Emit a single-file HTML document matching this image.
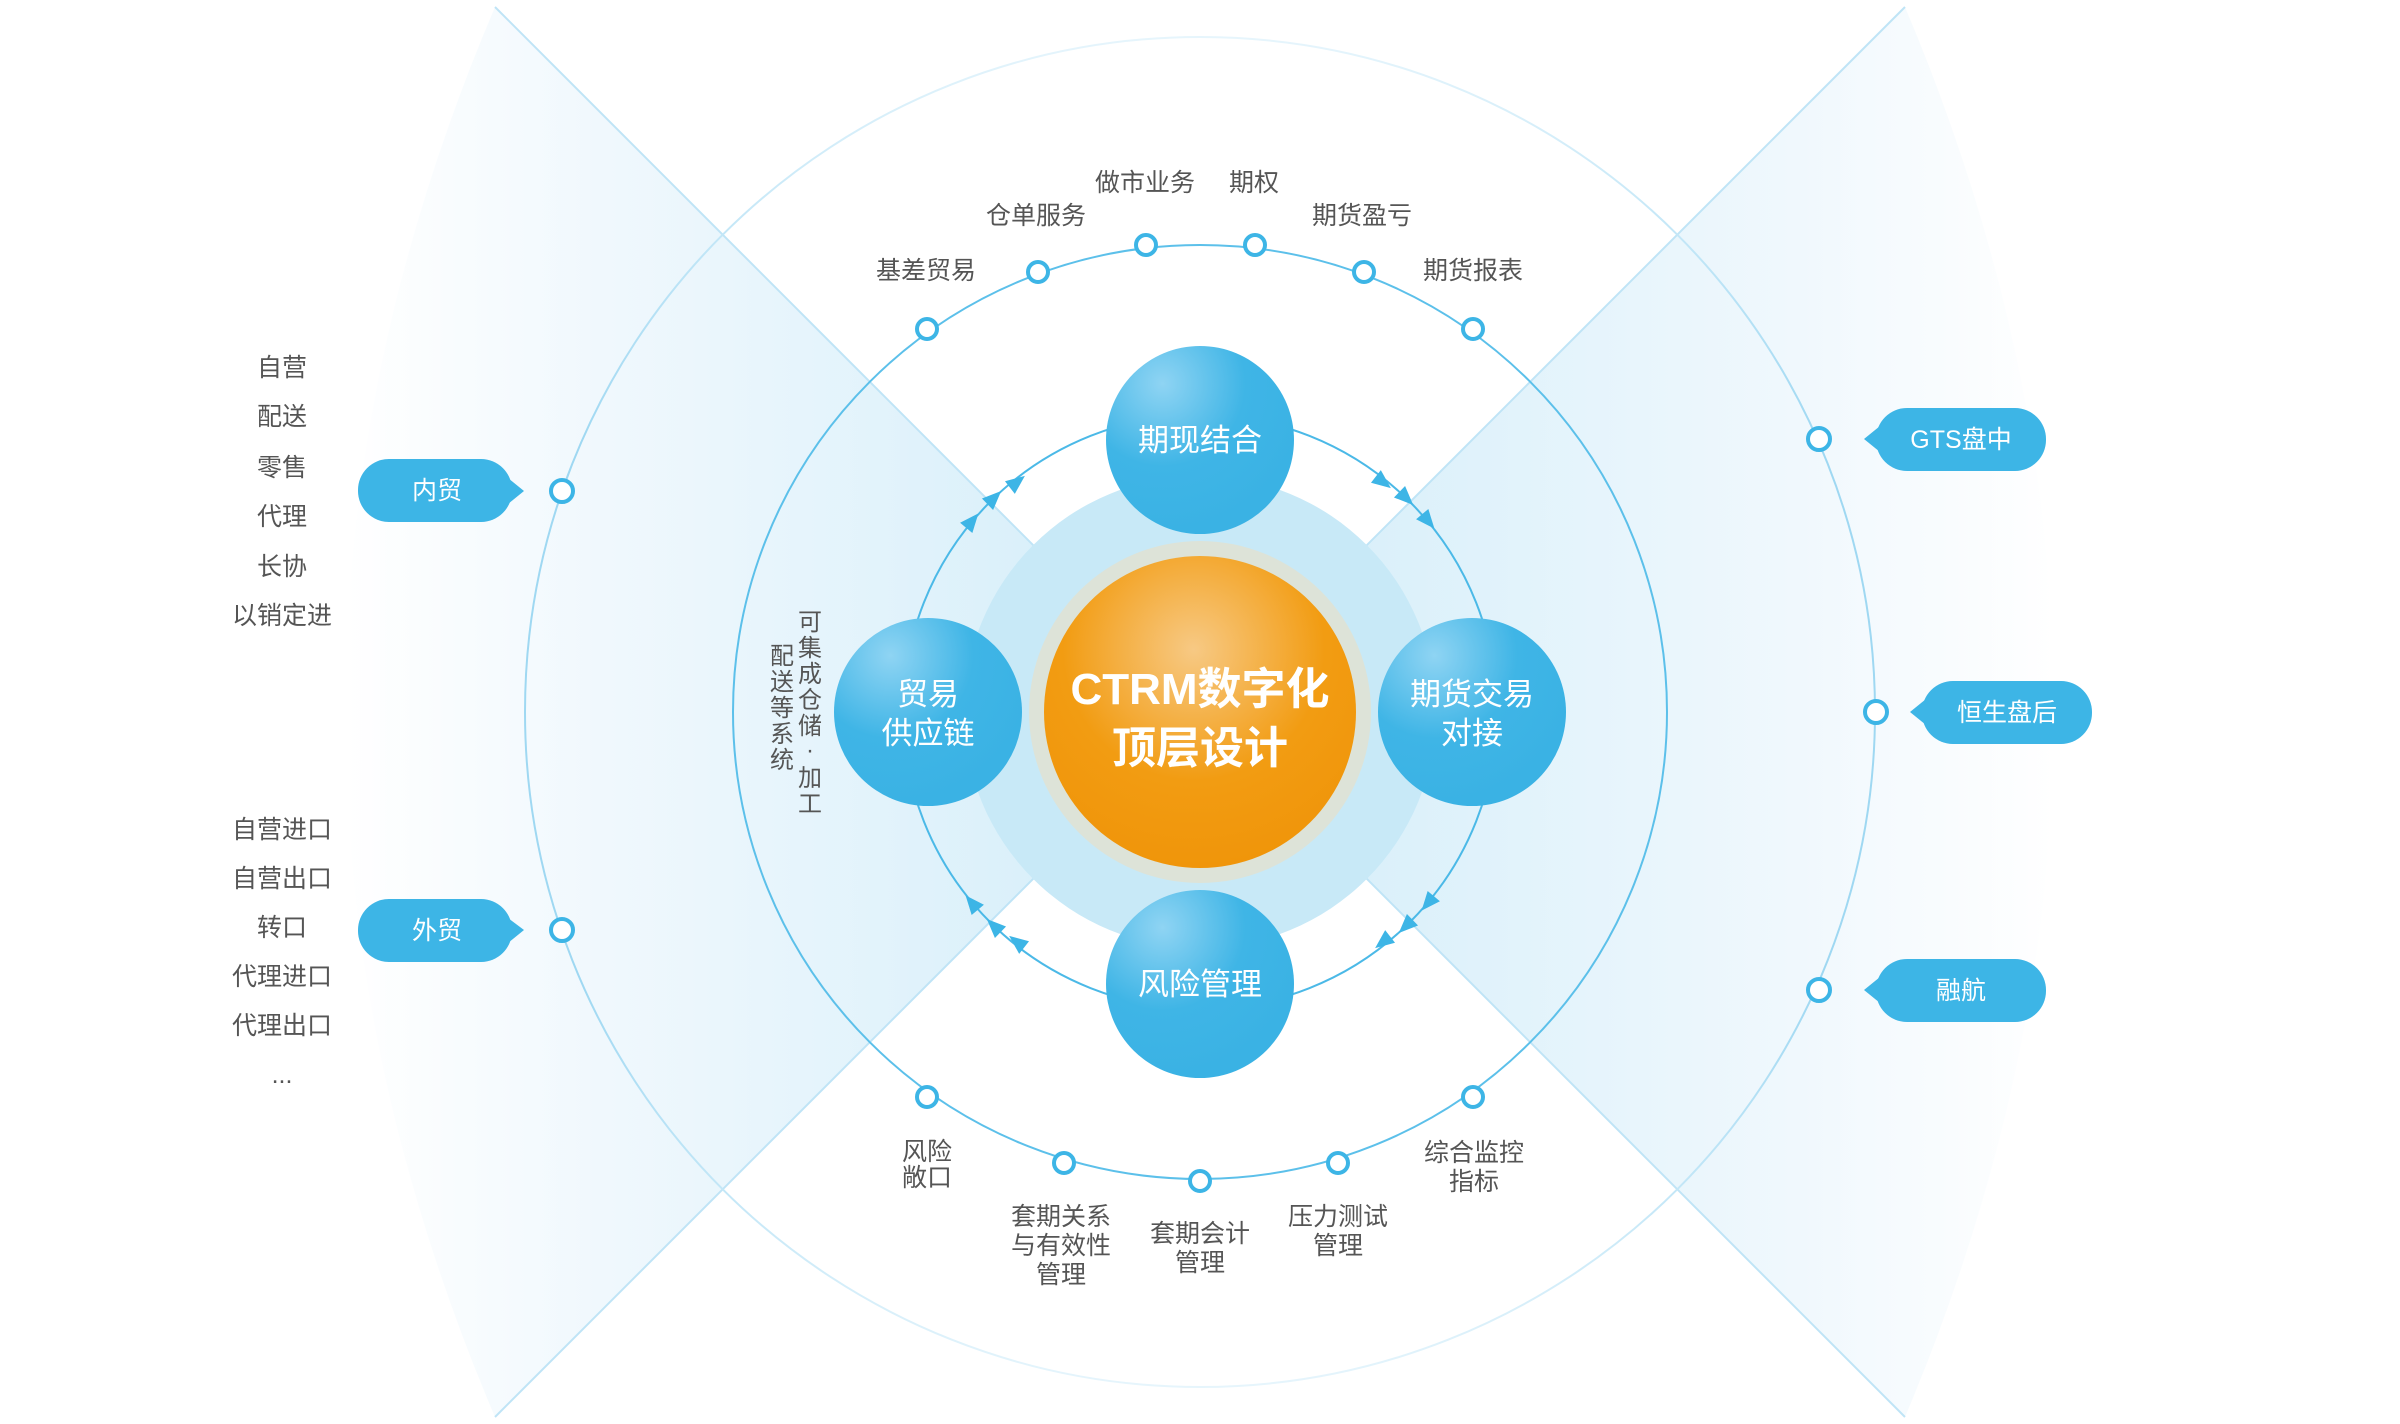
<!DOCTYPE html>
<html><head><meta charset="utf-8"><style>
html,body{margin:0;padding:0;background:#fff;}
svg{display:block;}
text{font-family:"Liberation Sans","Noto Sans CJK SC",sans-serif;}
</style></head><body>
<svg width="2400" height="1424" viewBox="0 0 2400 1424" xmlns="http://www.w3.org/2000/svg">
<defs>
<linearGradient id="wl" x1="345" y1="0" x2="1200" y2="0" gradientUnits="userSpaceOnUse">
<stop offset="0" stop-color="#ffffff"/><stop offset="0.3" stop-color="#f0f8fd"/><stop offset="1" stop-color="#d2edf9"/></linearGradient>
<linearGradient id="wr" x1="2054" y1="0" x2="1200" y2="0" gradientUnits="userSpaceOnUse">
<stop offset="0" stop-color="#ffffff"/><stop offset="0.3" stop-color="#f0f8fd"/><stop offset="1" stop-color="#d2edf9"/></linearGradient>
<radialGradient id="sat" cx="0.3" cy="0.2" r="0.8">
<stop offset="0" stop-color="#8fd4f3"/><stop offset="0.55" stop-color="#3fb5e6"/><stop offset="1" stop-color="#3ab2e4"/></radialGradient>
<radialGradient id="org" cx="0.48" cy="0.3" r="0.7">
<stop offset="0" stop-color="#f7c984"/><stop offset="0.6" stop-color="#f29c12"/><stop offset="1" stop-color="#f0950a"/></radialGradient>
<linearGradient id="outer" x1="0" y1="37" x2="0" y2="1387" gradientUnits="userSpaceOnUse">
<stop offset="0" stop-color="#e6f5fc"/><stop offset="0.3" stop-color="#9fd8f2"/><stop offset="0.7" stop-color="#9fd8f2"/><stop offset="1" stop-color="#e6f5fc"/></linearGradient>
<polygon id="ah" points="10,0 -9,-8 -9,8" fill="#3db5e6"/>
</defs>

<path d="M495,7 L1200,712 L495,1417 Q195,712 495,7 Z" fill="url(#wl)"/>
<path d="M1905,7 L1200,712 L1905,1417 Q2203,712 1905,7 Z" fill="url(#wr)"/>
<g stroke="#bfe4f6" stroke-width="2">
<line x1="495" y1="7" x2="1905" y2="1417"/><line x1="1905" y1="7" x2="495" y2="1417"/>
</g>

<circle cx="1200" cy="712" r="675" fill="none" stroke="url(#outer)" stroke-width="2"/>
<circle cx="1200" cy="712" r="467" fill="none" stroke="#5cc0ea" stroke-width="2"/>

<circle cx="1200" cy="712" r="236" fill="#c8e9f7"/>
<circle cx="1200" cy="712" r="297" fill="none" stroke="#4bb9e7" stroke-width="2"/>
<circle cx="1200" cy="712" r="171" fill="#dde3d8"/>
<circle cx="1200" cy="712" r="156" fill="url(#org)"/>

<g>
<use href="#ah" transform="translate(972,521) rotate(-50)"/>
<use href="#ah" transform="translate(994,498) rotate(-44)"/>
<use href="#ah" transform="translate(1017,482) rotate(-38)"/>
<use href="#ah" transform="translate(1383,482) rotate(38)"/>
<use href="#ah" transform="translate(1406,498) rotate(44)"/>
<use href="#ah" transform="translate(1428,521) rotate(50)"/>
<use href="#ah" transform="translate(1428,903) rotate(130)"/>
<use href="#ah" transform="translate(1406,926) rotate(136)"/>
<use href="#ah" transform="translate(1383,942) rotate(142)"/>
<use href="#ah" transform="translate(1017,942) rotate(-142)"/>
<use href="#ah" transform="translate(994,926) rotate(-136)"/>
<use href="#ah" transform="translate(972,903) rotate(-130)"/>
</g>

<circle cx="1200" cy="440" r="94" fill="url(#sat)"/>
<circle cx="928" cy="712" r="94" fill="url(#sat)"/>
<circle cx="1472" cy="712" r="94" fill="url(#sat)"/>
<circle cx="1200" cy="984" r="94" fill="url(#sat)"/>
<g fill="#fff" font-size="31" text-anchor="middle">
<text x="1200" y="451">期现结合</text>
<text x="928" y="705">贸易</text><text x="928" y="744">供应链</text>
<text x="1472" y="705">期货交易</text><text x="1472" y="744">对接</text>
<text x="1200" y="995">风险管理</text>
</g>
<g fill="#fff" font-size="44" font-weight="bold" text-anchor="middle">
<text x="1200" y="704">CTRM数字化</text>
<text x="1200" y="763">顶层设计</text>
</g>

<g fill="#fff" stroke="#3db5e6" stroke-width="4">
<circle cx="927" cy="329" r="10"/><circle cx="1038" cy="272" r="10"/><circle cx="1146" cy="245" r="10"/>
<circle cx="1255" cy="245" r="10"/><circle cx="1364" cy="272" r="10"/><circle cx="1473" cy="329" r="10"/>
<circle cx="927" cy="1097" r="10"/><circle cx="1064" cy="1163" r="10"/><circle cx="1200" cy="1181" r="10"/>
<circle cx="1338" cy="1163" r="10"/><circle cx="1473" cy="1097" r="10"/>
<circle cx="562" cy="491" r="11"/><circle cx="562" cy="930" r="11"/>
<circle cx="1819" cy="439" r="11"/><circle cx="1876" cy="712" r="11"/><circle cx="1819" cy="990" r="11"/>
</g>

<g fill="#3db5e6">
<rect x="358" y="459" width="154" height="63" rx="31"/><polygon points="508,478 524,491 508,504"/>
<rect x="358" y="899" width="154" height="63" rx="31"/><polygon points="508,918 524,930 508,943"/>
<rect x="1876" y="408" width="170" height="63" rx="31"/><polygon points="1880,426 1864,439 1880,452"/>
<rect x="1922" y="681" width="170" height="63" rx="31"/><polygon points="1926,699 1910,712 1926,725"/>
<rect x="1876" y="959" width="170" height="63" rx="31"/><polygon points="1880,977 1864,990 1880,1003"/>
</g>
<g fill="#fff" font-size="25" text-anchor="middle">
<text x="437" y="499">内贸</text><text x="437" y="939">外贸</text>
<text x="1961" y="448">GTS盘中</text><text x="2007" y="721">恒生盘后</text><text x="1961" y="999">融航</text>
</g>

<g fill="#555" font-size="25" text-anchor="middle">
<text x="282" y="376">自营</text><text x="282" y="425">配送</text><text x="282" y="476">零售</text>
<text x="282" y="525">代理</text><text x="282" y="575">长协</text><text x="282" y="624">以销定进</text>
<text x="282" y="838">自营进口</text><text x="282" y="887">自营出口</text><text x="282" y="936">转口</text>
<text x="282" y="985">代理进口</text><text x="282" y="1034">代理出口</text><text x="282" y="1083">...</text>
<text x="926" y="279">基差贸易</text><text x="1036" y="224">仓单服务</text><text x="1145" y="191">做市业务</text>
<text x="1254" y="191">期权</text><text x="1362" y="224">期货盈亏</text><text x="1473" y="279">期货报表</text>
<text x="927" y="1160">风险</text><text x="927" y="1186">敞口</text>
<text x="1061" y="1225">套期关系</text><text x="1061" y="1254">与有效性</text><text x="1061" y="1283">管理</text>
<text x="1200" y="1242">套期会计</text><text x="1200" y="1271">管理</text>
<text x="1338" y="1225">压力测试</text><text x="1338" y="1254">管理</text>
<text x="1474" y="1161">综合监控</text><text x="1474" y="1190">指标</text>
</g>
<g fill="#555" font-size="24" text-anchor="middle">
<text x="810" y="630">可</text><text x="810" y="656">集</text><text x="810" y="682">成</text><text x="810" y="708">仓</text>
<text x="810" y="734">储</text><text x="810" y="758">·</text><text x="810" y="786">加</text><text x="810" y="812">工</text>
<text x="782" y="664">配</text><text x="782" y="690">送</text><text x="782" y="716">等</text><text x="782" y="742">系</text><text x="782" y="768">统</text>
</g>
</svg>
</body></html>
